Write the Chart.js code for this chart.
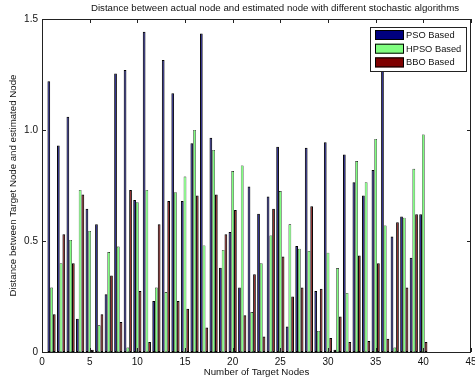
<!DOCTYPE html>
<html lang="en">
<head>
  <meta charset="UTF-8">
  <title>Distance between actual node and estimated node</title>
  <script src="https://cdn.jsdelivr.net/npm/chart.js"></script>
  <style>
    * { margin: 0; padding: 0; box-sizing: border-box; }
    body { background: #fff; }
    .chart-box { width: 475px; height: 383px; }
  </style>
</head>
<body>
  <div class="chart-box">
    <canvas id="distance-chart" width="475" height="383"></canvas>
  </div>

  <script>
    // target node numbers 1..40
    const nodes = [1, 2, 3, 4, 5, 6, 7, 8, 9, 10, 11, 12, 13, 14, 15, 16, 17, 18, 19, 20,
      21, 22, 23, 24, 25, 26, 27, 28, 29, 30, 31, 32, 33, 34, 35, 36, 37, 38, 39, 40];

    const psoBased = [1.22, 0.93, 1.06, 0.15, 0.645, 0.575, 0.26, 1.255, 1.27, 0.685,
      1.443, 0.23, 1.315, 1.165, 0.68, 0.94, 1.435, 0.965, 0.38, 0.54,
      0.29, 0.745, 0.623, 0.70, 0.925, 0.115, 0.477, 0.92, 0.275, 0.945,
      0.01, 0.89, 0.765, 0.705, 0.82, 1.35, 0.52, 0.61, 0.425, 0.62];

    const hpsoBased = [0.29, 0.40, 0.505, 0.73, 0.545, 0.12, 0.45, 0.475, 0.02, 0.675,
      0.73, 0.29, 0.27, 0.72, 0.79, 1.0, 0.48, 0.91, 0.46, 0.815,
      0.84, 0.18, 0.40, 0.525, 0.725, 0.575, 0.465, 0.455, 0.095, 0.447,
      0.378, 0.266, 0.86, 0.765, 0.96, 0.57, 0.02, 0.605, 0.825, 0.98];

    const bboBased = [0.17, 0.53, 0.40, 0.71, 0.01, 0.17, 0.345, 0.135, 0.73, 0.275,
      0.045, 0.575, 0.68, 0.23, 0.195, 0.705, 0.11, 0.71, 0.53, 0.64,
      0.165, 0.35, 0.07, 0.645, 0.43, 0.25, 0.29, 0.657, 0.285, 0.063,
      0.16, 0.045, 0.435, 0.05, 0.40, 0.06, 0.585, 0.29, 0.62, 0.045];

    const xTicks = [0, 5, 10, 15, 20, 25, 30, 35, 40, 45];
    const yTicks = [0, 0.5, 1, 1.5];

    const FONT = 'Arial, "Liberation Sans", sans-serif';

    function toPoints(values) {
      return values.map((v, i) => ({ x: nodes[i], y: v }));
    }

    // axes box + inward tick marks like the matlab figure
    const frameTicks = {
      id: 'frameTicks',
      afterDatasetsDraw(chart) {
        const { ctx, chartArea: a, scales } = chart;
        ctx.save();
        ctx.strokeStyle = '#222';
        ctx.lineWidth = 1;
        ctx.strokeRect(a.left + 0.5, a.top + 0.5, a.right - a.left - 1, a.bottom - a.top);
        ctx.beginPath();
        xTicks.forEach(t => {
          const x = Math.round(scales.x.getPixelForValue(t)) + 0.5;
          ctx.moveTo(x, a.bottom); ctx.lineTo(x, a.bottom - 4);
          ctx.moveTo(x, a.top); ctx.lineTo(x, a.top + 4);
        });
        yTicks.forEach(t => {
          const y = Math.round(scales.y.getPixelForValue(t)) + 0.5;
          ctx.moveTo(a.left, y); ctx.lineTo(a.left + 4, y);
          ctx.moveTo(a.right, y); ctx.lineTo(a.right - 4, y);
        });
        ctx.stroke();
        ctx.restore();
      }
    };

    // title sits a bit right of centre in the original
    const topTitle = {
      id: 'topTitle',
      afterDraw(chart) {
        const { ctx } = chart;
        ctx.save();
        ctx.fillStyle = '#111';
        ctx.font = '9.7px ' + FONT;
        ctx.textAlign = 'center';
        ctx.textBaseline = 'middle';
        ctx.fillText('Distance between actual node and estimated node with different stochastic algorithms', 275, 8);
        ctx.restore();
      }
    };

    // boxed legend inside the top right corner
    const boxLegend = {
      id: 'boxLegend',
      afterDraw(chart) {
        const { ctx } = chart;
        const x = 370, y = 27, w = 96, h = 44;
        ctx.save();
        ctx.fillStyle = '#fff';
        ctx.fillRect(x, y, w, h);
        ctx.strokeStyle = '#222';
        ctx.lineWidth = 1;
        ctx.strokeRect(x + 0.5, y + 0.5, w, h);
        ctx.font = '9.3px ' + FONT;
        ctx.textBaseline = 'middle';
        chart.data.datasets.forEach((ds, i) => {
          const cy = y + 8 + i * 13.7;
          ctx.fillStyle = ds.backgroundColor;
          ctx.fillRect(x + 5, cy - 5, 29, 10);
          ctx.strokeStyle = '#000';
          ctx.strokeRect(x + 5.5, cy - 4.5, 28, 9);
          ctx.fillStyle = '#111';
          ctx.fillText(ds.label, x + 36, cy + 0.5);
        });
        ctx.restore();
      }
    };

    new Chart(document.getElementById('distance-chart'), {
      type: 'bar',
      data: {
        datasets: [
          { label: 'PSO Based', data: toPoints(psoBased), backgroundColor: '#00007f', borderWidth: 1 },
          { label: 'HPSO Based', data: toPoints(hpsoBased), backgroundColor: '#80ff80', borderWidth: 0.6 },
          { label: 'BBO Based', data: toPoints(bboBased), backgroundColor: '#7f0000', borderWidth: 1 }
        ]
      },
      options: {
        responsive: false,
        animation: false,
        events: [],
        layout: { padding: { top: 19, right: 4, left: 0, bottom: 0 } },
        datasets: {
          bar: {
            categoryPercentage: 0.86,
            barPercentage: 1.0,
            borderColor: '#000',
            borderSkipped: false
          }
        },
        plugins: {
          legend: { display: false },
          tooltip: { enabled: false }
        },
        scales: {
          x: {
            type: 'linear',
            min: 0,
            max: 45,
            offset: false,
            grid: { display: false, drawTicks: false },
            border: { display: false },
            afterBuildTicks: s => { s.ticks = xTicks.map(v => ({ value: v })); },
            ticks: { color: '#111', font: { family: FONT, size: 10 }, padding: 4, maxRotation: 0, autoSkip: false },
            title: {
              display: true,
              text: 'Number of Target Nodes',
              color: '#111',
              font: { family: FONT, size: 9.7 },
              padding: { top: 0, bottom: 5 }
            },
            afterFit: s => { s.height = 31; s.paddingLeft = 0; s.paddingRight = 0; }
          },
          y: {
            min: 0,
            max: 1.5,
            grid: { display: false, drawTicks: false },
            border: { display: false },
            afterBuildTicks: s => { s.ticks = yTicks.map(v => ({ value: v })); },
            ticks: { color: '#111', font: { family: FONT, size: 10 }, padding: 4 },
            title: {
              display: true,
              text: 'Distance between Target Node and estimated Node',
              color: '#111',
              font: { family: FONT, size: 9.7 },
              padding: { top: 8, bottom: 0 }
            },
            afterFit: s => { s.width = 42; s.paddingTop = 0; s.paddingBottom = 0; }
          }
        }
      },
      plugins: [frameTicks, topTitle, boxLegend]
    });
  </script>
</body>
</html>
